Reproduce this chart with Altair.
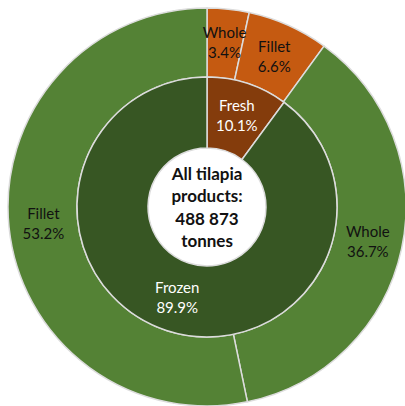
import altair as alt
import pandas as pd

# Inner ring (state)
inner_names = ["Fresh", "Frozen"]
inner_values = [10.1, 89.9]

# Outer ring (product form)
outer_names = ["Whole", "Fillet", "Whole", "Fillet"]
outer_parents = ["Fresh", "Fresh", "Frozen", "Frozen"]
outer_values = [3.4, 6.6, 36.7, 53.2]

center_lines = ["All tilapia", "products:", "488 873", "tonnes"]

inner_df = pd.DataFrame({
    "name": inner_names,
    "value": inner_values,
    "idx": list(range(len(inner_names))),
})
inner_df["label"] = [f"{n}\n{v}%" for n, v in zip(inner_names, inner_values)]

outer_df = pd.DataFrame({
    "name": outer_names,
    "parent": outer_parents,
    "value": outer_values,
    "idx": list(range(len(outer_names))),
})
outer_df["label"] = [f"{n}\n{v}%" for n, v in zip(outer_names, outer_values)]

center_df = pd.DataFrame({"label": ["\n".join(center_lines)]})

CX, CY = 207, 207
R_OUT, R_MID, R_IN = 199, 130, 59
FONT = "Lato"
STROKE = "#dcdcdc"
LH = 20

outer_arc = alt.Chart(outer_df).mark_arc(
    radius=R_OUT, radius2=R_MID, stroke=STROKE, strokeWidth=1.5
).encode(
    theta=alt.Theta("value:Q", stack=True),
    order=alt.Order("idx:Q"),
    color=alt.Color("parent:N", scale=alt.Scale(domain=["Fresh", "Frozen"],
                                                range=["#C55A11", "#548235"]),
                    legend=None),
    x=alt.value(CX), y=alt.value(CY),
)
outer_text = alt.Chart(outer_df).mark_text(
    radius=(R_OUT + R_MID) / 2, lineBreak="\n", font=FONT, fontSize=15,
    color="#111111", lineHeight=LH, baseline="middle", align="center",
    dy=-LH / 2
).encode(
    theta=alt.Theta("value:Q", stack=True),
    order=alt.Order("idx:Q"),
    text="label:N",
    x=alt.value(CX), y=alt.value(CY),
)

inner_arc = alt.Chart(inner_df).mark_arc(
    radius=R_MID, radius2=R_IN, stroke=STROKE, strokeWidth=1.5
).encode(
    theta=alt.Theta("value:Q", stack=True),
    order=alt.Order("idx:Q"),
    color=alt.Color("name:N", scale=alt.Scale(domain=["Fresh", "Frozen"],
                                              range=["#843C0C", "#375623"]),
                    legend=None),
    x=alt.value(CX), y=alt.value(CY),
)
inner_text = alt.Chart(inner_df).mark_text(
    radius=(R_MID + R_IN) / 2 + 1, lineBreak="\n", font=FONT, fontSize=15,
    color="white", lineHeight=LH, baseline="middle", align="center",
    dy=-LH / 2
).encode(
    theta=alt.Theta("value:Q", stack=True),
    order=alt.Order("idx:Q"),
    text="label:N",
    x=alt.value(CX), y=alt.value(CY),
)

center_text = alt.Chart(center_df).mark_text(
    lineBreak="\n", font=FONT, fontSize=17, fontWeight="bold",
    color="#111111", lineHeight=22.3, baseline="middle", align="center",
    dy=-32
).encode(
    text="label:N",
    x=alt.value(CX), y=alt.value(CY),
)

chart = alt.layer(
    alt.layer(outer_arc, outer_text),
    alt.layer(inner_arc, inner_text),
    center_text,
).resolve_scale(
    theta="independent", color="independent"
).properties(
    width=405, height=406,
    autosize=alt.AutoSizeParams(type="none"),
    padding=0,
    background="white",
).configure_view(stroke=None)

chart.save("out.html", embed_options={"renderer": "svg", "actions": False})
